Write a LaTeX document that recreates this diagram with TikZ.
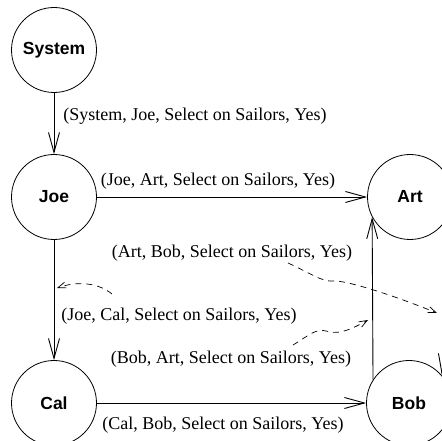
\documentclass[tikz,border=0pt]{standalone}
\usepackage{fontspec}
\setmainfont{Liberation Serif}
\setsansfont{Liberation Sans}
\usetikzlibrary{arrows.meta}

\begin{document}
\begin{tikzpicture}[x=1pt, y=1pt,
    peer/.style={draw, circle, minimum size=85pt, inner sep=0pt, line width=0.8pt, font=\fontsize{17.5}{21}\selectfont\sffamily\bfseries},
    lbl/.style={inner sep=0pt, font=\fontsize{18}{21}\selectfont},
    arr/.style={-{Straight Barb[length=20pt, width=11pt]}, line width=0.9pt},
    msg/.style={-{Straight Barb[length=8pt, width=6pt]}, dash pattern=on 6pt off 5pt, line width=0.7pt}
]
\path[use as bounding box] (0,0) rectangle (441,441);
\node[peer] (sys) at (54,391) {System};
\node[peer] (joe) at (54,244) {Joe};
\node[peer] (art) at (410,244) {Art};
\node[peer] (cal) at (54,38) {Cal};
\node[peer] (bob) at (409,38) {Bob};

\node[lbl] (lsj) at (195,325) {(System, Joe, Select on Sailors, Yes)};
\node[lbl] (lja) at (218,260) {(Joe, Art, Select on Sailors, Yes)};
\node[lbl] (lab) at (232,188) {(Art, Bob, Select on Sailors, Yes)};
\node[lbl] (ljc) at (179,125) {(Joe, Cal, Select on Sailors, Yes)};
\node[lbl] (lba) at (231,82) {(Bob, Art, Select on Sailors, Yes)};
\node[lbl] (lcb) at (223,16) {(Cal, Bob, Select on Sailors, Yes)};

\draw[arr] (sys) -- (joe);
\draw[arr] (joe) -- (art);
\draw[arr] (joe) -- (cal);
\draw[arr] (cal) -- (bob);
\draw[arr] (bob.147) -- (art.208);
\coordinate (ext) at (450,151);
\draw[arr] (ext) -- (bob.40);

% dashed replies
\coordinate (abs) at (288,178);
\coordinate (abe) at (437,128);
\draw[msg] (abs) .. controls (310,168) and (322,159) .. (333,160) .. controls (345,161) and (390,147) .. (abe);
\coordinate (bas) at (293,96);
\coordinate (bae) at (368,121);
\draw[msg] (bas) .. controls (308,105) and (316,113) .. (326,110) .. controls (336,107) and (345,108) .. (bae);
\coordinate (jcs) at (112,147);
\coordinate (jce) at (57,153);
\draw[msg] (jcs) .. controls (100,157) and (80,161) .. (jce);
\end{tikzpicture}
\end{document}
